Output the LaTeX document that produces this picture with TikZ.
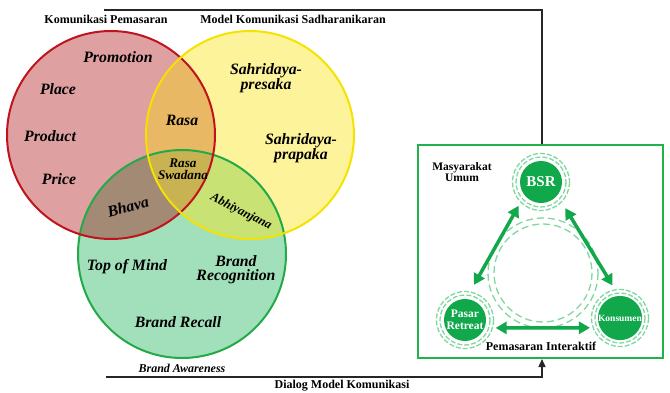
\documentclass[tikz,border=0pt]{standalone}
\usepackage{fontspec}
\setmainfont{Liberation Serif}
\usetikzlibrary{arrows.meta,calc}
\definecolor{redfill}{HTML}{DFA0A2}
\definecolor{yelfill}{HTML}{FDF39A}
\definecolor{grnfill}{HTML}{A2E0BC}
\definecolor{ryfill}{HTML}{E8B864}
\definecolor{rgfill}{HTML}{A28A74}
\definecolor{ygfill}{HTML}{C8E274}
\definecolor{ryg}{HTML}{C8B252}
\definecolor{redline}{HTML}{C0141C}
\definecolor{yelline}{HTML}{F5E200}
\definecolor{grnline}{HTML}{22AA48}
\definecolor{nodegreen}{HTML}{10A84A}
\definecolor{ringgreen}{HTML}{80D8A0}
\definecolor{boxgreen}{HTML}{22B24C}
\begin{document}
\begin{tikzpicture}[x=1pt,y=-1pt,
  lbl/.style={font=\bfseries\itshape\fontsize{15.8}{13.8}\selectfont, inner sep=0pt, align=center},
  sublbl/.style={font=\bfseries\itshape\fontsize{13.2}{12}\selectfont, inner sep=0pt, align=center},
  ttl/.style={font=\bfseries\fontsize{12}{12}\selectfont, inner sep=0pt, align=center},
  gnode/.style={circle, fill=nodegreen, minimum size=42pt, inner sep=0pt, text=white, font=\bfseries\fontsize{11.5}{11.5}\selectfont, align=center},
  ring/.style={draw=ringgreen, line width=1.3pt, dash pattern=on 5pt off 2pt},
  hubring/.style={draw=ringgreen, line width=1.3pt, dash pattern=on 7pt off 4pt},
  garrow/.style={draw=nodegreen, line width=3.5pt, {Triangle[length=11pt,width=12pt]}-{Triangle[length=11pt,width=12pt]}},
  conn/.style={draw=black!85, line width=1.5pt}
]
\useasboundingbox (0,0) rectangle (670,392);
\coordinate (cR) at (111,135);
\coordinate (cY) at (250,135);
\coordinate (cG) at (182,254);
% fills
\fill[redfill] (cR) circle[radius=104];
\fill[yelfill] (cY) circle[radius=104];
\fill[grnfill] (cG) circle[radius=104];
\begin{scope}\clip (cR) circle[radius=104]; \fill[ryfill] (cY) circle[radius=104];\end{scope}
\begin{scope}\clip (cR) circle[radius=104]; \fill[rgfill] (cG) circle[radius=104];\end{scope}
\begin{scope}\clip (cY) circle[radius=104]; \fill[ygfill] (cG) circle[radius=104];\end{scope}
\begin{scope}\clip (cR) circle[radius=104]; \clip (cY) circle[radius=104]; \fill[ryg] (cG) circle[radius=104];\end{scope}
% strokes
\draw[grnline, line width=2pt] (cG) circle[radius=104];
\draw[redline, line width=2pt] (cR) circle[radius=104];
\draw[yelline, line width=2pt] (cY) circle[radius=104];

% titles
\node[ttl] (t1) at (106,19) {Komunikasi Pemasaran};
\node[ttl] (t2) at (293,19) {Model Komunikasi Sadharanikaran};

% red labels
\node[lbl] (promo) at (118,57) {Promotion};
\node[lbl] (place) at (58,89) {Place};
\node[lbl] (product) at (50,136) {Product};
\node[lbl] (price) at (59,179) {Price};
% yellow labels
\node[lbl] (sp1) at (266,78) {Sahridaya-\\presaka};
\node[lbl] (sp2) at (301,148) {Sahridaya-\\prapaka};
% intersections
\node[lbl] (rasa) at (182,120) {Rasa};
\node[sublbl] (rsw) at (183,169) {Rasa\\Swadana};
\node[lbl, rotate=15] (bhava) at (128,207) {Bhava};
\node[font=\bfseries\itshape\fontsize{12.5}{12}\selectfont, inner sep=0pt, rotate=-27] (abhi) at (241,212) {Abhiyanjana};
% green labels
\node[lbl] (tom) at (127,267) {Top of Mind};
\node[lbl] (brec) at (236,270) {Brand\\Recognition};
\node[lbl] (brecall) at (178,322) {Brand Recall};
\node[font=\bfseries\itshape\fontsize{12}{12}\selectfont, inner sep=0pt] (baw) at (182,368) {Brand Awareness};

% green box
\node[draw=boxgreen, line width=2pt, fill=white, minimum width=245pt, minimum height=213pt, inner sep=0pt] (box) at (540.5,251.5) {};
\node[ttl, font=\bfseries\fontsize{11.5}{11.5}\selectfont] (mu) at (462,172) {Masyarakat\\Umum};
\coordinate (hub) at (543,273);
\draw[hubring] (hub) circle[radius=55];
\draw[hubring] (hub) circle[radius=49];

\node[gnode, font=\bfseries\fontsize{15}{15}\selectfont] (bsr) at (541,182) {BSR};
\node[gnode] (pasar) at (465,320) {Pasar\\Retreat};
\node[gnode, font=\bfseries\fontsize{9.5}{10}\selectfont] (kons) at (620,318) {Konsumen};
\foreach \n in {bsr,pasar,kons}{
  \draw[ring] (\n.center) circle[radius=25];
  \draw[ring] (\n.center) circle[radius=28.5];
}
\draw[garrow, shorten <=12pt, shorten >=16pt] (bsr.219) -- (pasar.87);
\draw[garrow, shorten <=15pt, shorten >=12pt] (bsr.321) -- (kons.93);
\draw[garrow, shorten <=11pt, shorten >=10pt] (pasar.-22) -- (kons.206);
\node[ttl] (pi) at (541,346) {Pemasaran Interaktif};

% connectors
\coordinate (topL) at (104,10);
\coordinate (botL) at (106,377);
\draw[conn] (topL) -| ($(box.north)+(1.5,0)$);
\draw[conn, -{Triangle[length=8pt,width=7pt]}] (botL) -| ($(box.south)+(1.5,0)$);
\node[ttl] (dmk) at (342,386) {Dialog Model Komunikasi};
\end{tikzpicture}
\end{document}
